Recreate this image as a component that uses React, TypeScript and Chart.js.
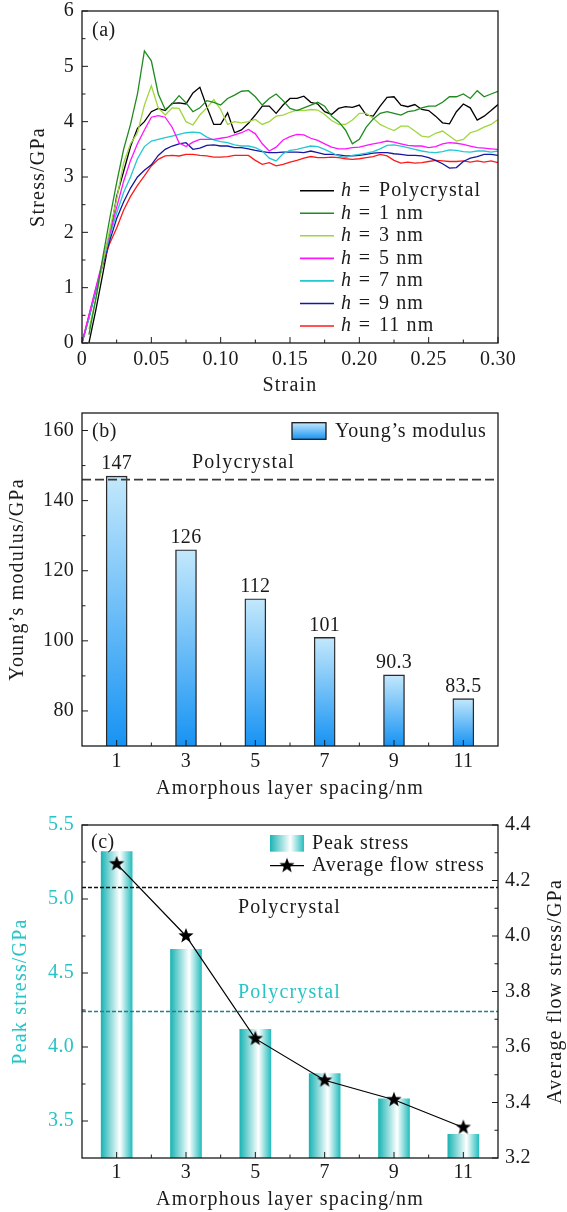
import React, { useEffect, useRef } from 'react';
import { Chart, registerables } from 'chart.js';

Chart.register(...registerables);

const FONT = '"Liberation Serif", "Times New Roman", Times, serif';
const W = 567;
const INK = '#1a1a1a';
const CYAN_TEXT = '#27c4c6';

// ---------------- Panel (a): stress-strain curves ----------------
const strain = [
  0, 0.005, 0.01, 0.015, 0.02, 0.025, 0.03, 0.035, 0.04, 0.045,
  0.05, 0.055, 0.06, 0.065, 0.07, 0.075, 0.08, 0.085, 0.09, 0.095,
  0.1, 0.105, 0.11, 0.115, 0.12, 0.125, 0.13, 0.135, 0.14, 0.145,
  0.15, 0.155, 0.16, 0.165, 0.17, 0.175, 0.18, 0.185, 0.19, 0.195,
  0.2, 0.205, 0.21, 0.215, 0.22, 0.225, 0.23, 0.235, 0.24, 0.245,
  0.25, 0.255, 0.26, 0.265, 0.27, 0.275, 0.28, 0.285, 0.29, 0.295, 0.3,
];
const stressPoly = [
  null, 0.0, 0.6, 1.25, 1.92, 2.65, 3.1, 3.55, 3.88, 4.0,
  4.18, 4.24, 4.2, 4.33, 4.34, 4.32, 4.52, 4.62, 4.27, 3.95,
  3.95, 4.16, 3.8, 3.85, 3.97, 4.12, 4.28, 4.28, 4.15, 4.3,
  4.42, 4.42, 4.46, 4.35, 4.32, 4.18, 4.13, 4.24, 4.27, 4.26,
  4.3, 4.12, 4.1, 4.28, 4.44, 4.45, 4.3, 4.27, 4.31, 4.22,
  4.2, 4.1, 3.98, 3.96, 4.18, 4.32, 4.25, 4.03, 4.1, 4.2, 4.31,
];
const stressH1 = [
  null, 0.15, 0.8, 1.55, 2.25, 2.9, 3.5, 3.95, 4.5, 5.28,
  5.1, 4.5, 4.22, 4.32, 4.47, 4.34, 4.18, 4.25, 4.38, 4.35,
  4.3, 4.42, 4.48, 4.55, 4.56, 4.45, 4.3, 4.42, 4.5, 4.38,
  4.24, 4.2, 4.25, 4.3, 4.35, 4.28, 4.1, 4.0, 3.85, 3.6,
  3.68, 3.9, 4.05, 4.15, 4.18, 4.15, 4.12, 4.18, 4.2, 4.25,
  4.28, 4.28, 4.35, 4.45, 4.45, 4.5, 4.42, 4.56, 4.45, 4.5, 4.55,
];
const stressH3 = [
  null, 0.25, 0.8, 1.45, 2.05, 2.6, 3.25, 3.6, 3.8, 4.3,
  4.65, 4.25, 4.12, 4.25, 4.24, 4.0, 3.94, 4.12, 4.25, 4.4,
  4.22, 3.95, 4.0, 3.98, 4.0, 4.04, 3.95, 4.0, 4.1, 4.12,
  4.17, 4.21, 4.2, 4.22, 4.21, 4.13, 4.02, 3.95, 3.95, 4.03,
  4.15, 4.15, 4.06, 3.95, 3.89, 3.84, 3.92, 3.92, 3.83, 3.74,
  3.72, 3.79, 3.83, 3.74, 3.65, 3.68, 3.8, 3.84, 3.9, 3.95, 4.04,
];
const stressH5 = [
  0, 0.5, 1.0, 1.5, 1.98, 2.45, 2.92, 3.3, 3.6, 3.85,
  4.08, 4.11, 4.08, 3.9, 3.62, 3.55, 3.63, 3.68, 3.68, 3.68,
  3.7, 3.72, 3.76, 3.8, 3.86, 3.78, 3.6, 3.47, 3.54, 3.67,
  3.73, 3.77, 3.76, 3.7, 3.66, 3.6, 3.54, 3.51, 3.51, 3.53,
  3.54, 3.57, 3.6, 3.62, 3.65, 3.63, 3.6, 3.57, 3.56, 3.56,
  3.53, 3.55, 3.6, 3.62, 3.61, 3.59, 3.56, 3.53, 3.52, 3.51, 3.5,
];
const stressH7 = [
  0, 0.45, 0.97, 1.45, 1.93, 2.35, 2.72, 3.0, 3.33, 3.55,
  3.65, 3.68, 3.71, 3.74, 3.77, 3.8, 3.81, 3.8, 3.72, 3.67,
  3.64, 3.62, 3.58, 3.56, 3.56, 3.53, 3.47, 3.34, 3.29, 3.42,
  3.48, 3.5, 3.53, 3.56, 3.55, 3.5, 3.44, 3.38, 3.35, 3.39,
  3.41, 3.43, 3.46, 3.51, 3.57, 3.58, 3.56, 3.53, 3.5, 3.47,
  3.45, 3.44, 3.46, 3.49, 3.48, 3.46, 3.45, 3.47, 3.47, 3.45, 3.47,
];
const stressH9 = [
  0, 0.45, 0.95, 1.42, 1.85, 2.25, 2.55, 2.8, 3.0, 3.12,
  3.22, 3.39, 3.5, 3.56, 3.6, 3.62, 3.5, 3.52, 3.57, 3.58,
  3.56, 3.56, 3.53, 3.53, 3.51, 3.48, 3.46, 3.44, 3.44, 3.45,
  3.45, 3.45, 3.44, 3.47, 3.44, 3.41, 3.41, 3.4, 3.38, 3.38,
  3.39, 3.41, 3.43, 3.44, 3.44, 3.42, 3.41, 3.39, 3.39, 3.38,
  3.35, 3.3, 3.24, 3.16, 3.17, 3.28, 3.34, 3.37, 3.41, 3.41, 3.39,
];
const stressH11 = [
  0, 0.5, 0.98, 1.42, 1.8, 2.08, 2.4, 2.65, 2.85, 3.02,
  3.2, 3.32, 3.38, 3.39, 3.38, 3.41, 3.41, 3.39, 3.38, 3.36,
  3.36, 3.37, 3.39, 3.39, 3.39, 3.3, 3.23, 3.26, 3.2, 3.23,
  3.27, 3.3, 3.34, 3.37, 3.35, 3.35, 3.36, 3.35, 3.33, 3.32,
  3.33, 3.35, 3.37, 3.41, 3.38, 3.3, 3.25, 3.27, 3.25, 3.26,
  3.28, 3.3, 3.29, 3.28, 3.28, 3.29, 3.27, 3.29, 3.27, 3.29, 3.26,
];
const curveLabels = ['Polycrystal', '1 nm', '3 nm', '5 nm', '7 nm', '9 nm', '11 nm'];
const curveValues = [stressPoly, stressH1, stressH3, stressH5, stressH7, stressH9, stressH11];
const curveColors = ['#000000', '#1f8a1f', '#9fd63c', '#ff14ff', '#22c8d2', '#16169e', '#ff1a1a'];
const strainTicks = [0, 0.05, 0.1, 0.15, 0.2, 0.25, 0.3];
const strainTickLabels = ['0', '0.05', '0.10', '0.15', '0.20', '0.25', '0.30'];
const strainMinor = [0.025, 0.075, 0.125, 0.175, 0.225, 0.275];
const stressTicks = [0, 1, 2, 3, 4, 5, 6];
const stressTickLabels = ['0', '1', '2', '3', '4', '5', '6'];
const stressMinor = [0.5, 1.5, 2.5, 3.5, 4.5, 5.5];

// ---------------- Panel (b): Young's modulus ----------------
const spacingNm = [1, 3, 5, 7, 9, 11];
const spacingTickLabels = ['1', '3', '5', '7', '9', '11'];
const spacingMinor = [2, 4, 6, 8, 10];
const youngsModulus = [147, 126, 112, 101, 90.3, 83.5];
const youngsLabels = ['147', '126', '112', '101', '90.3', '83.5'];
const polyModulus = 146;
const modulusTicks = [80, 100, 120, 140, 160];
const modulusTickLabels = ['80', '100', '120', '140', '160'];
const modulusMinor = [90, 110, 130, 150];

// ---------------- Panel (c): peak & flow stress ----------------
const peakStress = [5.32, 4.66, 4.12, 3.82, 3.65, 3.41];
const avgFlowStress = [4.26, 4.0, 3.63, 3.48, 3.41, 3.31];
const polyPeakStress = 4.24;
const polyFlowStress = 4.175;
const peakTicks = [3.5, 4.0, 4.5, 5.0, 5.5];
const peakTickLabels = ['3.5', '4.0', '4.5', '5.0', '5.5'];
const peakMinor = [3.75, 4.25, 4.75, 5.25];
const flowTicks = [3.2, 3.4, 3.6, 3.8, 4.0, 4.2, 4.4];
const flowTickLabels = ['3.2', '3.4', '3.6', '3.8', '4.0', '4.2', '4.4'];
const flowMinor = [3.3, 3.5, 3.7, 3.9, 4.1, 4.3];

// ---------------- helpers ----------------
type TextOpts = {
  size?: number; color?: string; align?: CanvasTextAlign; rot?: number;
  italic?: boolean; spacing?: number;
};
function drawText(ctx: CanvasRenderingContext2D, s: string, x: number, y: number, o: TextOpts = {}) {
  ctx.save();
  ctx.translate(x, y);
  if (o.rot) ctx.rotate(o.rot);
  ctx.font = `${o.italic ? 'italic ' : ''}${o.size ?? 20}px ${FONT}`;
  (ctx as any).letterSpacing = `${o.spacing ?? 0}px`;
  ctx.fillStyle = o.color ?? INK;
  ctx.textAlign = o.align ?? 'left';
  ctx.textBaseline = 'middle';
  ctx.fillText(s, 0, 0);
  ctx.restore();
}

type AxisDecor = {
  id: string; side: 'left' | 'bottom' | 'right';
  major: number[]; minor: number[]; labels: string[]; color?: string; labelOffset?: number;
};
function drawFrameAndTicks(chart: any, axes: AxisDecor[]) {
  const { ctx, chartArea: a } = chart;
  ctx.save();
  ctx.strokeStyle = INK;
  ctx.lineWidth = 1.3;
  ctx.strokeRect(a.left, a.top, a.right - a.left, a.bottom - a.top);
  ctx.lineWidth = 1;
  for (const ax of axes) {
    const sc = chart.scales[ax.id];
    const mark = (v: number, len: number) => {
      const p = sc.getPixelForValue(v);
      ctx.beginPath();
      if (ax.side === 'left') { ctx.moveTo(a.left, p); ctx.lineTo(a.left + len, p); }
      else if (ax.side === 'right') { ctx.moveTo(a.right, p); ctx.lineTo(a.right - len, p); }
      else { ctx.moveTo(p, a.bottom); ctx.lineTo(p, a.bottom - len); }
      ctx.stroke();
    };
    ax.major.forEach((v) => mark(v, 6));
    ax.minor.forEach((v) => mark(v, 3.5));
    ax.major.forEach((v, i) => {
      const p = sc.getPixelForValue(v);
      const o = { color: ax.color ?? INK, spacing: 0.3 };
      if (ax.side === 'left') drawText(ctx, ax.labels[i], a.left - 8, p, { ...o, align: 'right' });
      else if (ax.side === 'right') drawText(ctx, ax.labels[i], a.right + 7, p, { ...o, align: 'left' });
      else drawText(ctx, ax.labels[i], p, a.bottom + (ax.labelOffset ?? 16), { ...o, align: 'center' });
    });
  }
  ctx.restore();
}

function baseOptions(padTop: number, padRight: number) {
  return {
    animation: false as const,
    responsive: false,
    devicePixelRatio: 1,
    events: [] as any[],
    layout: { padding: { top: padTop, right: padRight, left: 0, bottom: 0 } },
    plugins: { legend: { display: false }, tooltip: { enabled: false } },
  };
}
function hiddenAxis(extra: any) {
  return {
    ...extra,
    ticks: { display: false },
    grid: { display: false, drawTicks: false },
    border: { display: false },
    title: { display: false },
  };
}

// ---------------- chart builders ----------------
function makeA(canvas: HTMLCanvasElement) {
  const datasets = curveValues.map((vals, k) => ({
    label: curveLabels[k],
    data: strain.map((x, i) => ({ x, y: vals[i] })),
    borderColor: curveColors[k],
    borderWidth: 1.3,
    pointRadius: 0,
    tension: 0,
    order: k === 0 ? 7 : k,
  }));
  const decor = {
    id: 'decorA',
    afterDraw(chart: any) {
      const { ctx, chartArea: a } = chart;
      drawFrameAndTicks(chart, [
        { id: 'x', side: 'bottom', major: strainTicks, minor: strainMinor, labels: strainTickLabels, labelOffset: 17 },
        { id: 'y', side: 'left', major: stressTicks, minor: stressMinor, labels: stressTickLabels },
      ]);
      const cx = (a.left + a.right) / 2;
      const cy = (a.top + a.bottom) / 2;
      drawText(ctx, 'Strain', cx, 386, { align: 'center', spacing: 1.2 });
      drawText(ctx, 'Stress/GPa', 39, cy, { align: 'center', spacing: 1.2, rot: -Math.PI / 2 });
      drawText(ctx, '(a)', 92, 31, { spacing: 0.5 });
      curveLabels.forEach((lab, k) => {
        const y = 190.7 + 22.55 * k;
        ctx.save();
        ctx.strokeStyle = curveColors[k];
        ctx.lineWidth = 1.6;
        ctx.beginPath();
        ctx.moveTo(300, y);
        ctx.lineTo(334, y);
        ctx.stroke();
        ctx.restore();
        drawText(ctx, 'h', 341, y, { italic: true });
        drawText(ctx, '=', 364.5, y, { align: 'center' });
        drawText(ctx, lab, 379, y, { spacing: 1.1 });
      });
    },
  };
  return new Chart(canvas, {
    type: 'line',
    data: { datasets },
    options: {
      ...baseOptions(11, 69),
      scales: {
        x: hiddenAxis({ type: 'linear', min: 0, max: 0.3, afterFit: (s: any) => { s.height = 57; } }),
        y: hiddenAxis({ type: 'linear', min: 0, max: 6, afterFit: (s: any) => { s.width = 82; } }),
      },
    } as any,
    plugins: [decor],
  });
}

function blueGradient(ctx: CanvasRenderingContext2D, y0: number, y1: number) {
  const g = ctx.createLinearGradient(0, y0, 0, y1);
  g.addColorStop(0, '#c3e8fc');
  g.addColorStop(1, '#1793f3');
  return g;
}
function cyanGradient(ctx: CanvasRenderingContext2D, x0: number, x1: number) {
  const g = ctx.createLinearGradient(x0, 0, x1, 0);
  g.addColorStop(0, '#1cb4b4');
  g.addColorStop(0.6, '#ffffff');
  g.addColorStop(1, '#27bebe');
  return g;
}

function makeB(canvas: HTMLCanvasElement) {
  const decor = {
    id: 'decorB',
    afterDraw(chart: any) {
      const { ctx, chartArea: a } = chart;
      drawFrameAndTicks(chart, [
        { id: 'x', side: 'bottom', major: spacingNm, minor: spacingMinor, labels: spacingTickLabels, labelOffset: 16 },
        { id: 'y', side: 'left', major: modulusTicks, minor: modulusMinor, labels: modulusTickLabels },
      ]);
      const meta = chart.getDatasetMeta(0);
      meta.data.forEach((bar: any, i: number) => {
        drawText(ctx, youngsLabels[i], bar.x, bar.y - 12, { align: 'center', spacing: 0.3 });
      });
      const cx = (a.left + a.right) / 2;
      const cy = (a.top + a.bottom) / 2;
      drawText(ctx, 'Amorphous layer spacing/nm', cx, 389, { align: 'center', spacing: 1.2 });
      drawText(ctx, 'Young\u2019s modulus/GPa', 18, cy, { align: 'center', spacing: 1.2, rot: -Math.PI / 2 });
      drawText(ctx, '(b)', 92, 32, { spacing: 0.5 });
      drawText(ctx, 'Polycrystal', 243.5, 63, { align: 'center', spacing: 1.2 });
      // legend
      ctx.save();
      ctx.fillStyle = blueGradient(ctx, 22.7, 39.3);
      ctx.fillRect(292, 22.7, 34, 16.6);
      ctx.strokeStyle = INK;
      ctx.lineWidth = 1.3;
      ctx.strokeRect(292, 22.7, 34, 16.6);
      ctx.restore();
      drawText(ctx, 'Young\u2019s modulus', 335, 31.7, { spacing: 0.8 });
    },
  };
  return new Chart(canvas, {
    type: 'bar',
    data: {
      datasets: [
        {
          type: 'bar',
          label: 'Young\u2019s modulus',
          data: spacingNm.map((x, i) => ({ x, y: youngsModulus[i] })),
          backgroundColor: (c: any) => {
            const ch = c.chart;
            const a = ch.chartArea;
            if (!a || !c.parsed) return '#6bbdf5';
            const yTop = ch.scales.y.getPixelForValue(c.parsed.y);
            return blueGradient(ch.ctx, yTop, a.bottom);
          },
          borderColor: '#2a2a2a',
          borderWidth: 1.4,
          barThickness: 21,
          order: 2,
        },
        {
          type: 'line',
          label: 'Polycrystal',
          data: [{ x: 0, y: polyModulus }, { x: 12, y: polyModulus }],
          borderColor: '#3a3a3a',
          borderWidth: 1.6,
          borderDash: [9, 4],
          pointRadius: 0,
          order: 1,
        },
      ],
    } as any,
    options: {
      ...baseOptions(13, 69),
      scales: {
        x: hiddenAxis({ type: 'linear', min: 0, max: 12, offset: false, afterFit: (s: any) => { s.height = 54; } }),
        y: hiddenAxis({ type: 'linear', min: 70, max: 165, afterFit: (s: any) => { s.width = 82; } }),
      },
    } as any,
    plugins: [decor],
  });
}

function makeStar(R: number) {
  const size = Math.ceil(R * 2 + 2);
  const c = document.createElement('canvas');
  c.width = size;
  c.height = size;
  const g = c.getContext('2d')!;
  const r = R * 0.42;
  g.beginPath();
  for (let k = 0; k < 10; k++) {
    const ang = -Math.PI / 2 + (k * Math.PI) / 5;
    const rr = k % 2 === 0 ? R : r;
    const px = size / 2 + rr * Math.cos(ang);
    const py = size / 2 + rr * Math.sin(ang);
    if (k === 0) g.moveTo(px, py); else g.lineTo(px, py);
  }
  g.closePath();
  g.fillStyle = '#000';
  g.fill();
  return c;
}

function makeC(canvas: HTMLCanvasElement) {
  const star = makeStar(8);
  const decor = {
    id: 'decorC',
    afterDraw(chart: any) {
      const { ctx, chartArea: a } = chart;
      drawFrameAndTicks(chart, [
        { id: 'x', side: 'bottom', major: spacingNm, minor: spacingMinor, labels: spacingTickLabels, labelOffset: 15 },
        { id: 'y', side: 'left', major: peakTicks, minor: peakMinor, labels: peakTickLabels, color: CYAN_TEXT },
        { id: 'y2', side: 'right', major: flowTicks, minor: flowMinor, labels: flowTickLabels },
      ]);
      const cx = (a.left + a.right) / 2;
      const cy = (a.top + a.bottom) / 2;
      drawText(ctx, 'Amorphous layer spacing/nm', cx, 400, { align: 'center', spacing: 1.2 });
      drawText(ctx, 'Peak stress/GPa', 21, cy, { align: 'center', spacing: 1.2, rot: -Math.PI / 2, color: CYAN_TEXT });
      drawText(ctx, 'Average flow stress/GPa', 556, cy, { align: 'center', spacing: 1.2, rot: -Math.PI / 2 });
      drawText(ctx, '(c)', 91, 43, { spacing: 0.5 });
      drawText(ctx, 'Polycrystal', 289.5, 108, { align: 'center', spacing: 1.2 });
      drawText(ctx, 'Polycrystal', 289.5, 193, { align: 'center', spacing: 1.2, color: CYAN_TEXT });
      // legend
      ctx.save();
      ctx.fillStyle = cyanGradient(ctx, 270, 304);
      ctx.fillRect(270, 35, 34, 16.7);
      ctx.strokeStyle = '#000';
      ctx.lineWidth = 1.2;
      ctx.beginPath();
      ctx.moveTo(270, 65.7);
      ctx.lineTo(304, 65.7);
      ctx.stroke();
      ctx.drawImage(star, 287 - star.width / 2, 65.7 - star.height / 2);
      ctx.restore();
      drawText(ctx, 'Peak stress', 312, 43.3, { spacing: 0.8 });
      drawText(ctx, 'Average flow stress', 312, 65.7, { spacing: 0.8 });
    },
  };
  return new Chart(canvas, {
    type: 'bar',
    data: {
      datasets: [
        {
          type: 'bar',
          label: 'Peak stress',
          yAxisID: 'y',
          data: spacingNm.map((x, i) => ({ x, y: peakStress[i] })),
          backgroundColor: (c: any) => {
            const ch = c.chart;
            if (!ch.chartArea || !c.parsed) return '#7fd6d6';
            const xc = ch.scales.x.getPixelForValue(c.parsed.x);
            return cyanGradient(ch.ctx, xc - 15.5, xc + 15.5);
          },
          borderWidth: 0,
          barThickness: 31,
          order: 4,
        },
        {
          type: 'line',
          label: 'Polycrystal peak',
          yAxisID: 'y',
          data: [{ x: 0, y: polyPeakStress }, { x: 12, y: polyPeakStress }],
          borderColor: '#23808c',
          borderWidth: 1.4,
          borderDash: [4, 2],
          pointRadius: 0,
          order: 3,
        },
        {
          type: 'line',
          label: 'Polycrystal flow',
          yAxisID: 'y2',
          data: [{ x: 0, y: polyFlowStress }, { x: 12, y: polyFlowStress }],
          borderColor: '#111111',
          borderWidth: 1.4,
          borderDash: [4, 2],
          pointRadius: 0,
          order: 2,
        },
        {
          type: 'line',
          label: 'Average flow stress',
          yAxisID: 'y2',
          data: spacingNm.map((x, i) => ({ x, y: avgFlowStress[i] })),
          borderColor: '#000000',
          borderWidth: 1.2,
          pointStyle: star,
          pointRadius: 8,
          tension: 0,
          order: 1,
        },
      ],
    } as any,
    options: {
      ...baseOptions(25, 0),
      scales: {
        x: hiddenAxis({ type: 'linear', min: 0, max: 12, offset: false, afterFit: (s: any) => { s.height = 54; } }),
        y: hiddenAxis({ type: 'linear', position: 'left', min: 3.25, max: 5.5, afterFit: (s: any) => { s.width = 82; } }),
        y2: hiddenAxis({ type: 'linear', position: 'right', min: 3.2, max: 4.4, afterFit: (s: any) => { s.width = 69; } }),
      },
    } as any,
    plugins: [decor],
  });
}

function Panel({ top, height, make }: { top: number; height: number; make: (c: HTMLCanvasElement) => Chart }) {
  const ref = useRef<HTMLCanvasElement>(null);
  useEffect(() => {
    const chart = make(ref.current as HTMLCanvasElement);
    return () => chart.destroy();
  }, []);
  return (
    <canvas
      ref={ref}
      width={W}
      height={height}
      style={{ position: 'absolute', left: 0, top, width: W, height, display: 'block' }}
    />
  );
}

export default function App() {
  return (
    <div style={{ position: 'absolute', left: 0, top: 0, width: W, height: 1212, background: '#fff' }}>
      <Panel top={0} height={400} make={makeA} />
      <Panel top={400} height={400} make={makeB} />
      <Panel top={800} height={412} make={makeC} />
    </div>
  );
}
